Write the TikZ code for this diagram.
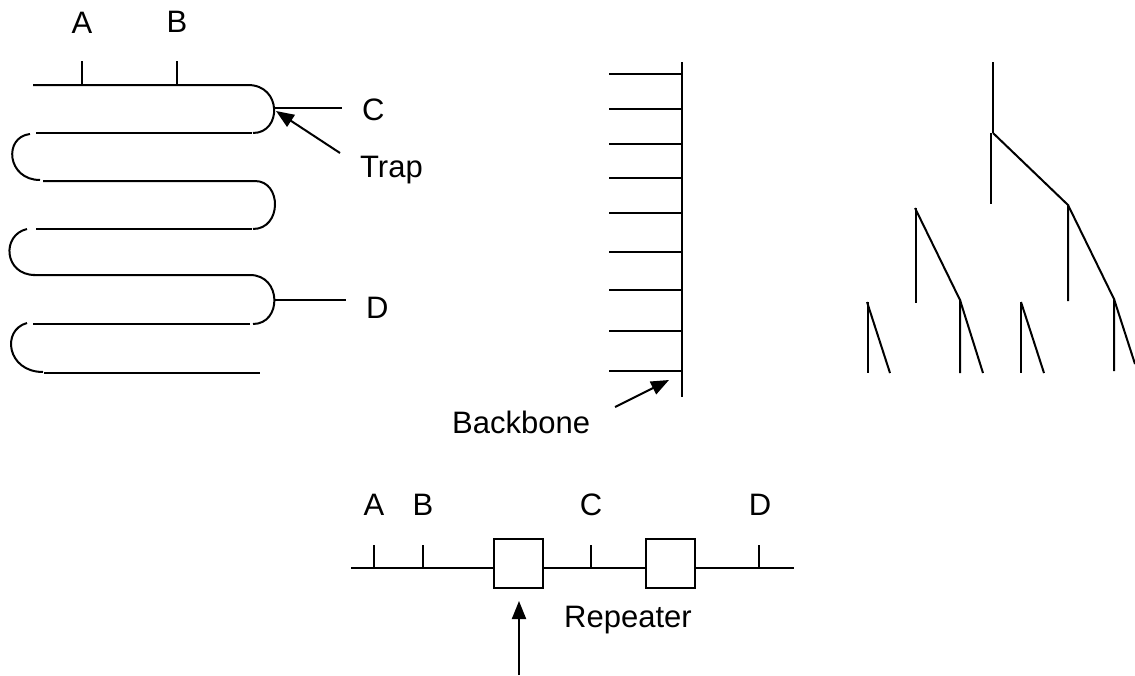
\documentclass[tikz,border=0pt]{standalone}
\usepackage{fontspec}
\setmainfont{Liberation Sans}
\usetikzlibrary{arrows.meta}
\begin{document}
\begin{tikzpicture}[x=1pt,y=-1pt,
  wire/.style={line width=2pt,line cap=butt},
  lbl/.style={inner sep=0pt,font=\fontsize{31}{36}\selectfont},
  ptr/.style={line width=2pt,-{Triangle[length=18pt,width=14pt]}},
  rbox/.style={draw,line width=2pt,minimum width=49pt,minimum height=49pt,inner sep=0pt}]
\useasboundingbox (0,0) rectangle (1135,675);
% ---------- serpentine bus ----------
\draw[wire] (33,85) -- (248,85) .. controls (282,85) and (282,133) .. (253,133);
\draw[wire] (36,133) -- (252,133);
\draw[wire] (30,134) .. controls (3,137) and (7,180) .. (40,180);
\draw[wire] (43,181) -- (255,181) .. controls (282,181) and (282,229) .. (253,229);
\draw[wire] (36,229) -- (252,229);
\draw[wire] (27,229) .. controls (1,235) and (4,275) .. (35,275);
\draw[wire] (33,275) -- (250,275) .. controls (282,275) and (282,324) .. (253,324);
\draw[wire] (33,324) -- (250,324);
\draw[wire] (27,323) .. controls (1,330) and (7,372) .. (43,372);
\draw[wire] (44,373) -- (260,373);
\draw[wire] (82,61) -- (82,85);
\draw[wire] (177,61) -- (177,85);
\node[lbl,anchor=base] (sA) at (82,33) {A};
\node[lbl,anchor=base] (sB) at (177,32) {B};
\coordinate (cTap) at (275,108);
\coordinate (dTap) at (275,300);
\node[lbl,anchor=base west] (sC) at (362,120) {C};
\node[lbl,anchor=base west] (sTrap) at (360,177) {Trap};
\node[lbl,anchor=base west] (sD) at (366,318) {D};
\draw[wire] (cTap) -- (342,108);
\draw[wire] (dTap) -- (346,300);
\coordinate (trapTail) at (340,153);
\draw[ptr] (trapTail) -- (276,111);
% ---------- backbone ----------
\coordinate (bbTop) at (682,62);
\coordinate (bbBot) at (682,397);
\draw[wire] (bbTop) -- (bbBot);
\foreach \yy in {74,109,144,178,213,252,290,331,371}
  \draw[wire] (609,\yy) -- (682,\yy);
\node[lbl,anchor=base west] (sBack) at (452,433) {Backbone};
\coordinate (bbTail) at (615,407);
\draw[ptr] (bbTail) -- (669,380);
% ---------- tree ----------
\coordinate (t0) at (993,133);
\coordinate (t1) at (1068,205);
\coordinate (t2) at (1114,299);
\coordinate (t3) at (915,208);
\coordinate (t4) at (960,300);
\coordinate (t5) at (867,302);
\coordinate (t6) at (1021,302);
\draw[wire] (993,62) -- (t0);
\draw[wire] (991,133) -- (991,204);
\draw[wire] (t0) -- (t1) -- (1068,301);
\draw[wire] (t1) -- (t2) -- (1114,371);
\draw[wire] (t2) -- (1135,364);
\draw[wire] (916,208) -- (916,303);
\draw[wire] (t3) -- (t4) -- (960,373);
\draw[wire] (t4) -- (983,373);
\draw[wire] (868,302) -- (868,373);
\draw[wire] (t5) -- (890,373);
\draw[wire] (t6) -- (1021,373);
\draw[wire] (t6) -- (1044,373);
% ---------- repeater bus ----------
\node[rbox] (r1) at (518.5,563.5) {};
\node[rbox] (r2) at (670.5,563.5) {};
\coordinate (busL) at (351,568);
\coordinate (busR) at (794,568);
\draw[wire] (busL) -- (r1.west |- busL);
\draw[wire] (r1.east |- busL) -- (r2.west |- busL);
\draw[wire] (r2.east |- busL) -- (busR);
\foreach \xx in {374,423,591,759}
  \draw[wire] (\xx,545) -- (\xx,568);
\node[lbl,anchor=base] (bA) at (374,515) {A};
\node[lbl,anchor=base] (bB) at (423,515) {B};
\node[lbl,anchor=base] (bC) at (591,515) {C};
\node[lbl,anchor=base] (bD) at (760,515) {D};
\node[lbl,anchor=base west] (sRep) at (564,627) {Repeater};
\coordinate (repTail) at (519,675);
\draw[ptr] (repTail) -- (519,601);
\end{tikzpicture}
\end{document}
